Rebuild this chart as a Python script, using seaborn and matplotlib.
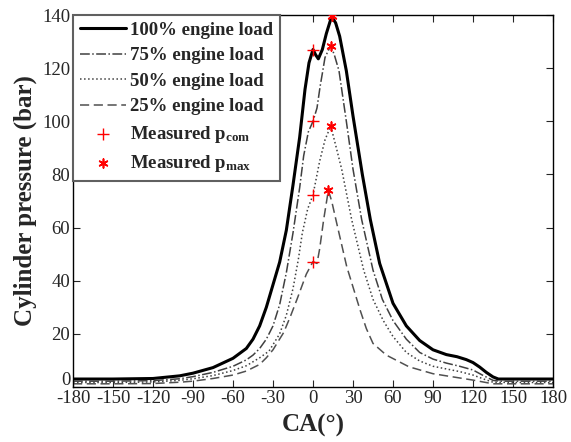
import numpy as np
import pandas as pd
import matplotlib
matplotlib.use("Agg")
import matplotlib.pyplot as plt
import matplotlib.transforms as mtransforms
import seaborn as sns

# crank angle (deg) / cylinder pressure (bar)
ca_100 = [-180, -150, -120, -100, -90, -75, -60, -50, -45, -40, -35, -30, -25, -20,
          -15, -10, -6, -3, 0, 2, 4, 7, 10, 14, 17, 20, 25, 30, 37, 43, 50, 60, 70,
          80, 90, 100, 108, 115, 120, 125, 130, 135, 139, 150, 180]
p_100 = [3.0, 3.0, 3.2, 4.2, 5.2, 7.3, 10.8, 14.5, 18, 23, 30, 38.5, 47, 59,
         76, 94, 112, 122, 127, 125, 123.5, 127, 133, 139.5, 137, 132, 119, 102, 80, 63, 46.5, 31.5, 23,
         17.5, 14, 12.2, 11.4, 10.3, 9.2, 7.5, 5.5, 3.8, 3.0, 3.0, 3.0]

ca_75 = [-180, -150, -120, -100, -90, -75, -60, -50, -45, -40, -35, -30, -25, -20,
         -15, -10, -7, -3.5, 0, 3, 5.3, 7, 9, 13.3, 16, 19.5, 25, 30, 36.5, 45, 52,
         60, 70, 80, 90, 100, 110, 120, 127, 135, 140, 150, 180]
p_75 = [2.2, 2.2, 2.4, 3.1, 3.9, 5.5, 7.8, 10.2, 12, 14.5, 18, 23, 31, 43,
        58, 75, 87, 96, 100, 105, 113, 118, 124, 128.5, 125, 119, 100, 82, 63, 44, 33,
        25, 18, 13, 10.5, 9, 7.8, 6.4, 4.5, 2.5, 2.2, 2.2, 2.2]

ca_50 = [-180, -150, -120, -100, -90, -75, -60, -50, -40, -33, -25, -20, -15, -11,
         -8, -4, 0, 5, 9, 13.3, 17, 21.5, 29, 38, 45, 52.7, 60, 70, 80, 90, 100,
         110, 120, 128, 135, 150, 180]
p_50 = [1.7, 1.7, 1.9, 2.5, 3.1, 4.3, 6.2, 8, 11, 13.5, 20, 27, 37, 48,
        58, 67, 72.3, 85, 93, 98.2, 91, 82, 63, 44, 33, 25, 19, 13, 9.8, 7.8, 6.8,
        5.8, 4.5, 3.0, 1.8, 1.7, 1.7]

ca_25 = [-180, -150, -120, -100, -90, -75, -60, -50, -40, -35, -30, -22, -17, -12,
         -5, 0, 3, 5, 8, 11.5, 14, 17.8, 25.3, 35.3, 40, 45, 55, 72, 90, 105, 120,
         135, 150, 180]
p_25 = [1.2, 1.2, 1.3, 1.8, 2.2, 3.2, 4.5, 6, 8.5, 11, 14, 20.5, 26.5, 33,
        42.5, 47.2, 46.5, 52, 63, 74, 70, 61.6, 45.3, 29, 22, 16.4, 12, 7.6, 5, 3.8, 2.6,
        1.2, 1.2, 1.2]

# measured points
pcom_ca = [0, 0, 0, 0]
pcom_p = [127, 100, 72.3, 47.2]
pmax_ca = [14, 13.3, 13.3, 11.5]
pmax_p = [139.5, 128.5, 98.2, 74]

sns.set_style("ticks")
plt.rcParams["font.family"] = ["Liberation Serif", "DejaVu Serif"]
plt.rcParams["mathtext.default"] = "regular"
plt.rcParams["axes.unicode_minus"] = False
plt.rcParams["xtick.direction"] = "in"
plt.rcParams["ytick.direction"] = "in"

fig = plt.figure(figsize=(5.71, 4.42), dpi=100)
ax = fig.add_axes([73 / 571, 1 - 387 / 442, 480 / 571, 372 / 442])

series = [
    (ca_100, p_100, "100% engine load", "-", "black", 2.2),
    (ca_75, p_75, "75% engine load", "-.", "#404040", 1.1),
    (ca_50, p_50, "50% engine load", ":", "#404040", 1.1),
    (ca_25, p_25, "25% engine load", (0, (6, 3)), "#505050", 1.1),
]
for ca, p, lab, ls, col, lw in series:
    df = pd.DataFrame({"CA": ca, "P": p})
    sns.lineplot(data=df, x="CA", y="P", ax=ax, color=col, linestyle=ls,
                 linewidth=lw, label=lab, estimator=None, sort=False)

sns.scatterplot(x=pcom_ca, y=pcom_p, ax=ax, marker="+", color="red", s=70,
                linewidth=1.0, label="Measured p$_{com}$", zorder=5)
sns.scatterplot(x=pmax_ca, y=pmax_p, ax=ax, marker=(6, 2, 0), color="red", s=40,
                linewidth=1.2, label="Measured p$_{max}$", zorder=5)

ax.set_xlim(-180, 180)
ax.set_ylim(0, 140)
ax.set_xticks(np.arange(-180, 181, 30))
ax.set_yticks(np.arange(0, 141, 20))
ax.tick_params(axis="both", labelsize=13.5, length=5, width=0.8,
               top=True, right=True, pad=2)
for sp in ax.spines.values():
    sp.set_linewidth(1.0)
    sp.set_color("black")

# "0" sits a little above the -180 label, as in the original
lab0 = ax.get_yticklabels()[0]
lab0.set_transform(lab0.get_transform() +
                   mtransforms.ScaledTranslation(0, 6 / 72, fig.dpi_scale_trans))

ax.set_xlabel("CA(°)", fontsize=18, fontweight="bold", labelpad=5)
ax.set_ylabel("Cylinder pressure (bar)", fontsize=18, fontweight="bold", labelpad=4)

leg = ax.legend(loc="upper left", borderaxespad=0, fancybox=False,
                prop={"size": 13.5, "weight": "bold"}, handlelength=2.5,
                labelspacing=0.45, handletextpad=0.2, borderpad=0.35)
leg.get_frame().set_edgecolor("#606060")
leg.get_frame().set_linewidth(1.5)
leg.get_frame().set_alpha(1)

fig.savefig("out.png", dpi=100)
